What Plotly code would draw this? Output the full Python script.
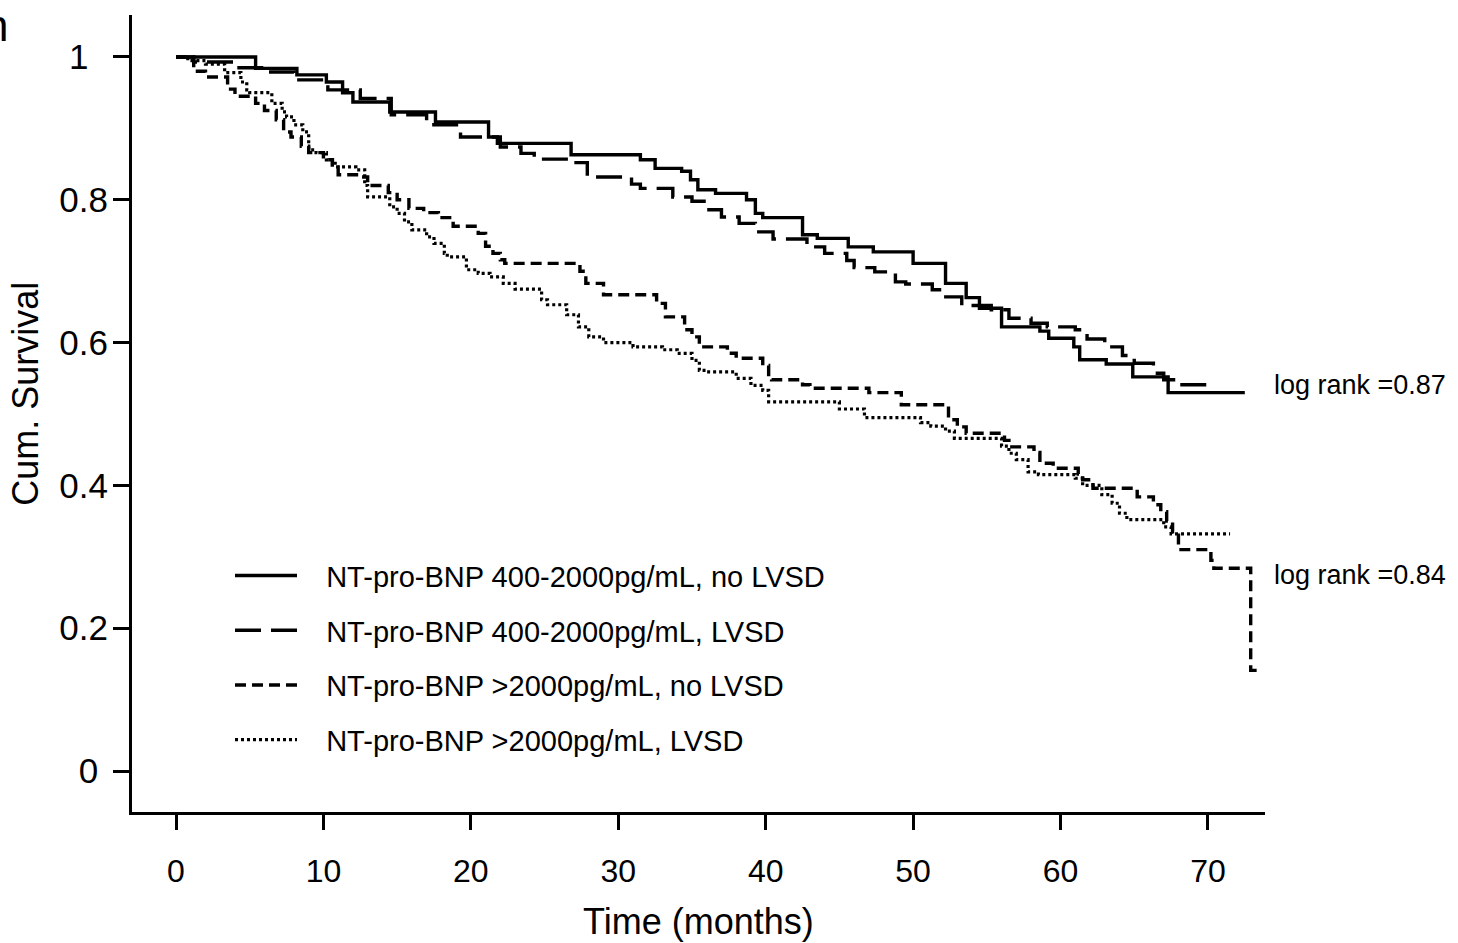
import plotly.graph_objects as go

# ---------------- data ----------------
names = [
    "NT-pro-BNP 400-2000pg/mL, no LVSD",
    "NT-pro-BNP 400-2000pg/mL, LVSD",
    "NT-pro-BNP >2000pg/mL, no LVSD",
    "NT-pro-BNP >2000pg/mL, LVSD",
]

t_a = [0, 5.4, 8.2, 10.2, 11.3, 12.0, 14.5, 17.6, 21.2, 21.8, 26.8, 31.5, 32.5, 34.3, 34.9, 35.4,
       36.6, 38.7, 39.3, 39.8, 42.5, 43.5, 45.6, 47.3, 50.0, 52.2, 53.6, 54.5, 56.0, 58.6, 59.2,
       60.9, 61.3, 63.1, 64.9, 67.3, 72.5]
s_a = [1.0, 0.984, 0.975, 0.965, 0.95, 0.937, 0.923, 0.909, 0.888, 0.879, 0.863, 0.856, 0.844, 0.84,
       0.828, 0.814, 0.809, 0.80, 0.781, 0.775, 0.751, 0.746, 0.734, 0.727, 0.711, 0.683, 0.663,
       0.648, 0.622, 0.616, 0.606, 0.594, 0.576, 0.570, 0.552, 0.530, 0.530]

t_b = [0, 1.2, 4.0, 6.0, 8.0, 10.3, 12.5, 14.6, 17.0, 19.3, 22.0, 23.4, 24.3, 26.6, 27.9, 30.9,
       31.5, 33.7, 35.0, 36.0, 37.0, 38.2, 39.3, 40.5, 42.8, 44.0, 45.5, 46.0, 47.4, 48.8, 49.5,
       51.3, 52.0, 53.3, 55.3, 56.5, 58.0, 59.1, 61.0, 61.8, 63.0, 64.2, 65.0, 66.3, 67.0, 68.0, 70.0]
s_b = [1.0, 0.993, 0.985, 0.979, 0.968, 0.954, 0.942, 0.919, 0.905, 0.888, 0.874, 0.865, 0.857,
       0.852, 0.832, 0.822, 0.816, 0.804, 0.798, 0.786, 0.776, 0.767, 0.755, 0.745, 0.734, 0.725,
       0.715, 0.705, 0.699, 0.685, 0.682, 0.674, 0.664, 0.652, 0.646, 0.634, 0.627, 0.622, 0.618,
       0.605, 0.594, 0.582, 0.571, 0.557, 0.548, 0.541, 0.541]

t_c = [0, 1.2, 2.0, 3.5, 4.0, 5.4, 6.0, 6.8, 7.3, 7.8, 8.5, 9.0, 10.0, 10.6, 11.0, 12.4, 13.0,
       14.4, 15.0, 15.8, 16.8, 17.8, 18.8, 20.5, 21.0, 21.5, 22.0, 22.3, 27.4, 27.8, 29.0, 32.6,
       33.2, 34.5, 35.0, 35.5, 37.4, 38.0, 39.8, 40.2, 40.4, 42.5, 43.0, 47.0, 49.2, 52.4, 53.0,
       53.6, 56.2, 56.5, 58.2, 58.6, 59.5, 61.2, 61.5, 62.2, 65.2, 66.3, 66.8, 67.2, 67.6, 68.0,
       70.2, 70.4, 72.9, 73.4]
s_c = [1.0, 0.98, 0.972, 0.955, 0.945, 0.935, 0.925, 0.912, 0.895, 0.888, 0.875, 0.866, 0.856,
       0.846, 0.835, 0.832, 0.82, 0.81, 0.80, 0.788, 0.782, 0.775, 0.763, 0.753, 0.735, 0.725,
       0.716, 0.711, 0.70, 0.683, 0.667, 0.655, 0.636, 0.618, 0.608, 0.594, 0.585, 0.578, 0.568,
       0.552, 0.548, 0.541, 0.536, 0.530, 0.513, 0.492, 0.482, 0.473, 0.463, 0.454, 0.446, 0.431,
       0.424, 0.416, 0.408, 0.396, 0.384, 0.373, 0.363, 0.350, 0.335, 0.31, 0.295, 0.284, 0.141,
       0.141]

t_d = [0, 0.8, 2.0, 3.3, 4.4, 4.8, 5.0, 6.5, 7.2, 7.5, 8.0, 8.6, 9.0, 9.5, 10.2, 10.8, 12.2,
       12.8, 13.0, 14.5, 15.0, 15.5, 16.0, 17.0, 17.5, 18.2, 18.4, 19.7, 20.5, 21.3, 22.2, 23.0,
       24.8, 25.2, 26.5, 27.3, 28.0, 29.0, 31.0, 33.0, 34.0, 35.0, 35.5, 36.0, 38.0, 39.0, 39.8,
       40.2, 45.0, 46.7, 50.5, 51.2, 52.2, 52.8, 56.0, 56.5, 57.0, 57.8, 58.5, 61.0, 61.5, 62.8,
       63.5, 64.0, 64.5, 67.0, 67.5, 71.5]
s_d = [1.0, 0.995, 0.99, 0.978, 0.965, 0.954, 0.95, 0.935, 0.923, 0.916, 0.905, 0.895, 0.87,
       0.866, 0.856, 0.846, 0.842, 0.82, 0.804, 0.79, 0.781, 0.769, 0.758, 0.748, 0.739, 0.725,
       0.72, 0.702, 0.697, 0.692, 0.683, 0.675, 0.66, 0.653, 0.639, 0.622, 0.608, 0.60, 0.594,
       0.59, 0.585, 0.575, 0.561, 0.559, 0.55, 0.54, 0.533, 0.517, 0.507, 0.495, 0.488, 0.483,
       0.476, 0.466, 0.455, 0.445, 0.436, 0.419, 0.415, 0.41, 0.40, 0.387, 0.375, 0.361, 0.352,
       0.342, 0.332, 0.332]

x_ticks = [0, 10, 20, 30, 40, 50, 60, 70]
y_ticks = [0, 0.2, 0.4, 0.6, 0.8, 1]
y_tick_text = ["0\u00a0", "0.2", "0.4", "0.6", "0.8", "1\u00a0\u00a0"]
log_rank_labels = ["log rank =0.87", "log rank =0.84"]
log_rank_y = [0.541, 0.2745]

# ---------------- figure ----------------
FONT = "Liberation Sans, Arial, Helvetica, sans-serif"
series = [(t_a, s_a), (t_b, s_b), (t_c, s_c), (t_d, s_d)]
styles = [
    dict(width=3.4, dash="solid"),
    dict(width=3.4, dash="26px,10px"),
    dict(width=3.4, dash="11px,6px"),
    dict(width=3.2, dash="3px,3px"),
]

fig = go.Figure()
for (tx, sy), nm, st in zip(series, names, styles):
    fig.add_trace(go.Scatter(
        x=tx, y=sy, mode="lines", name="\u00a0\u00a0\u00a0" + nm, legendgroup=nm,
        line=dict(color="black", width=st["width"], dash=st["dash"], shape="hv"),
        hoverinfo="skip",
    ))

for txt, yy in zip(log_rank_labels, log_rank_y):
    fig.add_annotation(text=txt, xref="paper", yref="y", x=1.006, y=yy,
                       xanchor="left", yanchor="middle", showarrow=False,
                       font=dict(family=FONT, size=27, color="black"))

# axis titles
fig.add_annotation(text="Cum. Survival", xref="paper", yref="y", x=-0.094, y=0.529,
                   textangle=-90, xanchor="center", yanchor="middle", showarrow=False,
                   font=dict(family=FONT, size=36, color="black"))
fig.add_annotation(text="Time (months)", xref="paper", yref="paper", x=0.5, y=-0.138,
                   xanchor="center", yanchor="middle", showarrow=False,
                   font=dict(family=FONT, size=36, color="black"))
# clipped panel letter at the very top-left edge (cut off in the reference too)
fig.add_annotation(text="n", xref="paper", yref="paper", x=-0.1077, y=0.987,
                   xanchor="right", yanchor="middle", showarrow=False,
                   font=dict(family=FONT, size=44, color="black"))

fig.update_layout(
    width=1458, height=943,
    margin=dict(l=132, r=193, t=15, b=131),
    paper_bgcolor="white", plot_bgcolor="white",
    font=dict(family=FONT, color="black"),
    showlegend=True,
    legend=dict(x=0.0865, y=0.3285, xanchor="left", yanchor="top",
                bgcolor="rgba(0,0,0,0)", font=dict(family=FONT, size=29, color="black"),
                tracegroupgap=14, itemwidth=62),
    xaxis=dict(range=[-2.985, 73.87], tickvals=x_ticks, showgrid=False, zeroline=False,
               showline=True, linecolor="black", linewidth=3,
               ticks="outside", ticklen=15, tickwidth=3, tickcolor="black",
               tickfont=dict(family=FONT, size=32, color="black"), ticklabelstandoff=14),
    yaxis=dict(range=[-0.0574, 1.0588], tickvals=y_ticks, ticktext=y_tick_text,
               showgrid=False, zeroline=False,
               showline=True, linecolor="black", linewidth=3,
               ticks="outside", ticklen=16, tickwidth=3, tickcolor="black",
               tickfont=dict(family=FONT, size=35, color="black"), ticklabelstandoff=-2),
)

fig.write_html("out.html", config={"displayModeBar": False},
               post_script="document.body.style.margin='0px';")
